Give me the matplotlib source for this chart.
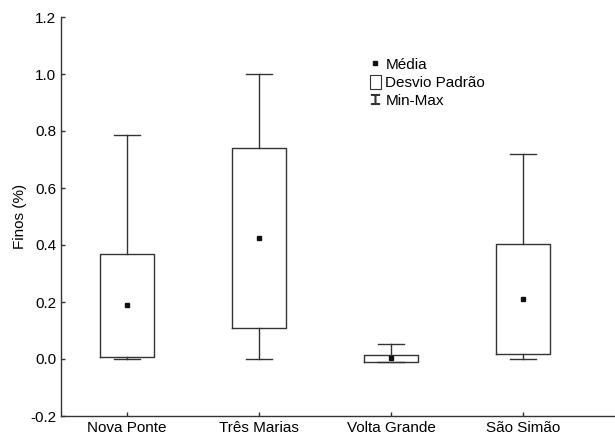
import matplotlib.pyplot as plt
from matplotlib.lines import Line2D
from matplotlib.patches import Rectangle

plt.rcParams['font.family'] = ['Liberation Sans', 'DejaVu Sans']

# Dados
locais = ["Nova Ponte", "Três Marias", "Volta Grande", "São Simão"]
media = [0.19, 0.425, 0.003, 0.21]
desvio_inf = [0.007, 0.109, -0.010, 0.018]
desvio_sup = [0.368, 0.740, 0.014, 0.403]
minimo = [0.0, 0.0, -0.010, 0.0]
maximo = [0.785, 1.0, 0.053, 0.72]
yticks = [-0.2, 0.0, 0.2, 0.4, 0.6, 0.8, 1.0, 1.2]

fig = plt.figure(figsize=(6.15, 4.37), dpi=100)
ax = fig.add_axes([61 / 615, 21 / 437, 553 / 615, 399 / 437])

stats = []
for i in range(len(locais)):
    stats.append({"med": media[i], "q1": desvio_inf[i], "q3": desvio_sup[i],
                  "whislo": minimo[i], "whishi": maximo[i], "label": locais[i]})

cor = "#333333"
ax.bxp(stats, positions=range(len(locais)), widths=0.41, showfliers=False,
       boxprops=dict(color=cor, linewidth=1.0),
       whiskerprops=dict(color=cor, linewidth=1.0),
       capprops=dict(color=cor, linewidth=1.0),
       medianprops=dict(linewidth=0), capwidths=0.2)
ax.plot(range(len(locais)), media, "s", color="#111111", markersize=3.5, zorder=5)

ax.set_xlim(-0.5, 3.69)
ax.set_ylim(-0.2, 1.2)
ax.set_yticks(yticks)
ax.set_yticklabels(["%.1f" % v for v in yticks])
ax.set_xticks(range(len(locais)))
ax.set_xticklabels(locais)
ax.set_ylabel("Finos (%)", fontsize=11, labelpad=2)
ax.tick_params(direction="in", length=3, labelsize=11, color=cor, width=1.0)
for s in ["top", "right"]:
    ax.spines[s].set_visible(False)
for s in ["left", "bottom"]:
    ax.spines[s].set_color(cor)
    ax.spines[s].set_linewidth(1.0)

# Legenda
h_media = Line2D([], [], marker="s", linestyle="none", color="#111111", markersize=3)
h_desvio = Rectangle((0, 0), 1, 1, facecolor="white", edgecolor=cor, linewidth=0.8)
h_minmax = Line2D([], [], marker="$\u2336$", linestyle="none", color=cor, markersize=7)
leg = ax.legend([h_media, h_desvio, h_minmax], ["Média", "Desvio Padrão", "Min-Max"],
                loc="upper left", bbox_to_anchor=(0.545, 0.92), frameon=False,
                fontsize=11, handlelength=0.7, handleheight=1.0, handletextpad=0.3,
                labelspacing=0.22, borderpad=0)

plt.savefig("out.png", dpi=100)
